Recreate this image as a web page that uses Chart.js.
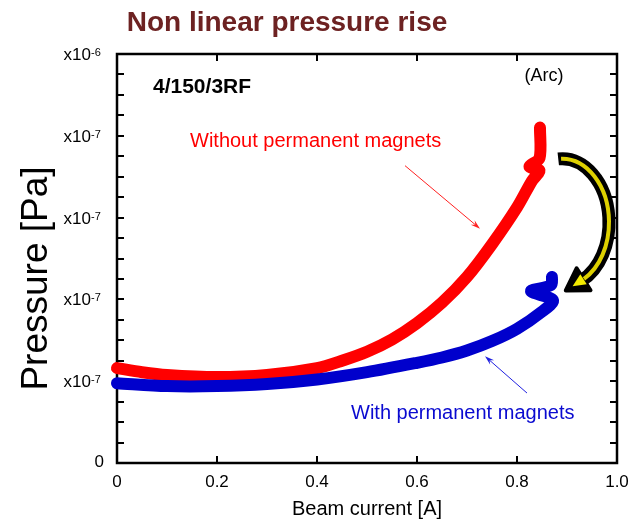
<!DOCTYPE html>
<html>
<head>
<meta charset="utf-8">
<title>Non linear pressure rise</title>
<script src="https://cdn.jsdelivr.net/npm/chart.js@4.4.1/dist/chart.umd.min.js"></script>
<style>
  html, body { margin: 0; padding: 0; background: #fff; }
  #wrap { width: 631px; height: 523px; }
</style>
</head>
<body>
<div id="wrap"><canvas id="chart"></canvas></div>
<script>
// Beam current [A] and pressure (in units of 1e-7 Pa)
var redCurrent  = [0, 0.05, 0.1, 0.2, 0.3, 0.4, 0.45, 0.5, 0.55, 0.6, 0.65, 0.7, 0.75, 0.8, 0.83, 0.845, 0.825, 0.845, 0.846]
var redPressure = [2.32, 2.22, 2.15, 2.10, 2.15, 2.32, 2.50, 2.72, 3.02, 3.42, 3.92, 4.55, 5.35, 6.25, 6.90, 7.15, 7.25, 7.45, 8.2]

var blueCurrent  = [0, 0.1, 0.2, 0.3, 0.4, 0.5, 0.6, 0.65, 0.7, 0.75, 0.8, 0.85, 0.872, 0.828, 0.868, 0.87]
var bluePressure = [1.95, 1.88, 1.88, 1.93, 2.04, 2.22, 2.45, 2.58, 2.75, 2.98, 3.28, 3.70, 3.98, 4.20, 4.35, 4.55]

var xTickLabels = ['0', '0.2', '0.4', '0.6', '0.8', '1.0']
var yMajorTicks = [0, 2, 4, 6, 8, 10]
var yTickBase   = ['0', 'x10', 'x10', 'x10', 'x10', 'x10']
var yTickExp    = ['', '-7', '-7', '-7', '-7', '-6']

var FONT = "'Liberation Sans', Arial, sans-serif"

function toPoints(xs, ys) {
    return xs.map((x, i) => ({ x: x, y: ys[i] }))
}

// small arrow with a notched head
function thinArrow(ctx, x1, y1, x2, y2, color) {
    var ang = Math.atan2(y2 - y1, x2 - x1)
    ctx.strokeStyle = color
    ctx.fillStyle = color
    ctx.lineWidth = 1
    ctx.beginPath()
    ctx.moveTo(x1, y1)
    ctx.lineTo(x2 - 4 * Math.cos(ang), y2 - 4 * Math.sin(ang))
    ctx.stroke()
    var len = 10, spread = 0.3
    ctx.beginPath()
    ctx.moveTo(x2, y2)
    ctx.lineTo(x2 - len * Math.cos(ang - spread), y2 - len * Math.sin(ang - spread))
    ctx.lineTo(x2 - 6 * Math.cos(ang), y2 - 6 * Math.sin(ang))
    ctx.lineTo(x2 - len * Math.cos(ang + spread), y2 - len * Math.sin(ang + spread))
    ctx.closePath()
    ctx.fill()
}

// black outlined yellow bent arrow ("Arc" jump)
function bentArrow(ctx, cx, cy, rx, ry) {
    var a0 = -Math.PI / 2 - 0.08
    var a1 = 65 * Math.PI / 180
    var ex = cx + rx * Math.cos(a1), ey = cy + ry * Math.sin(a1)
    var tx = -rx * Math.sin(a1), ty = ry * Math.cos(a1)
    var tl = Math.hypot(tx, ty)
    tx /= tl; ty /= tl
    var nx = -ty, ny = tx

    function head(size, back) {
        ctx.beginPath()
        ctx.moveTo(ex + tx * size, ey + ty * size)
        ctx.lineTo(ex + nx * back - tx * 2, ey + ny * back - ty * 2)
        ctx.lineTo(ex - nx * back - tx * 2, ey - ny * back - ty * 2)
        ctx.closePath()
    }

    ctx.lineCap = 'butt'
    ctx.lineJoin = 'round'
    ctx.strokeStyle = '#000'
    ctx.lineWidth = 13
    ctx.beginPath()
    ctx.ellipse(cx, cy, rx, ry, 0, a0, a1)
    ctx.stroke()
    ctx.fillStyle = '#000'
    ctx.lineWidth = 4
    head(19, 13)
    ctx.fill()
    ctx.stroke()

    ctx.strokeStyle = '#ddd000'
    ctx.lineWidth = 4
    ctx.beginPath()
    ctx.ellipse(cx, cy, rx, ry, 0, a0 + 0.06, a1 - 0.05)
    ctx.stroke()
    ctx.fillStyle = '#f2ea00'
    head(11, 6)
    ctx.fill()
}

var framePlugin = {
    id: 'frame',
    beforeDatasetsDraw(chart) {
        var ctx = chart.ctx, a = chart.chartArea
        var xs = chart.scales.x, ys = chart.scales.y
        ctx.save()

        // main title
        ctx.font = 'bold 28px ' + FONT
        ctx.fillStyle = '#6d2222'
        ctx.textAlign = 'center'
        ctx.textBaseline = 'alphabetic'
        ctx.fillText('Non linear pressure rise', 287, 31)

        ctx.strokeStyle = '#000'
        ctx.lineWidth = 2
        ctx.beginPath()
        xs.ticks.forEach(t => {
            var px = Math.round(xs.getPixelForValue(t.value))
            ctx.moveTo(px, a.bottom); ctx.lineTo(px, a.bottom - 7)
            ctx.moveTo(px, a.top); ctx.lineTo(px, a.top + 7)
        })
        ys.ticks.forEach(t => {
            var py = Math.round(ys.getPixelForValue(t.value))
            ctx.moveTo(a.left, py); ctx.lineTo(a.left + 7, py)
            ctx.moveTo(a.right, py); ctx.lineTo(a.right - 7, py)
        })
        ctx.stroke()
        ctx.lineWidth = 2.5
        ctx.strokeRect(a.left, a.top, a.right - a.left, a.bottom - a.top)

        // y tick labels with exponent
        ctx.fillStyle = '#000'
        yMajorTicks.forEach((v, i) => {
            var py = ys.getPixelForValue(v)
            if (!yTickExp[i]) {
                ctx.font = '17px ' + FONT
                ctx.textAlign = 'right'
                ctx.textBaseline = 'middle'
                ctx.fillText(yTickBase[i], a.left - 13, py - 1)
                return
            }
            var x0 = a.left - 26
            ctx.font = '17px ' + FONT
            ctx.textAlign = 'right'
            ctx.textBaseline = 'alphabetic'
            ctx.fillText(yTickBase[i], x0, py + 6)
            ctx.font = '11px ' + FONT
            ctx.textAlign = 'left'
            ctx.fillText(yTickExp[i], x0, py + 2)
        })

        // y axis title
        ctx.save()
        ctx.translate(37, (a.top + a.bottom) / 2 + 20)
        ctx.rotate(-Math.PI / 2)
        ctx.font = '37px ' + FONT
        ctx.textAlign = 'center'
        ctx.textBaseline = 'middle'
        ctx.fillText('Pressure [Pa]', 0, 0)
        ctx.restore()
        ctx.restore()
    }
}

var notesPlugin = {
    id: 'notes',
    afterDatasetsDraw(chart) {
        var ctx = chart.ctx
        var xs = chart.scales.x, ys = chart.scales.y
        var P = (x, y) => [xs.getPixelForValue(x), ys.getPixelForValue(y)]
        ctx.save()
        ctx.textBaseline = 'middle'

        var p = P(0.072, 9.2)
        ctx.font = 'bold 21px ' + FONT
        ctx.fillStyle = '#000'
        ctx.textAlign = 'left'
        ctx.fillText('4/150/3RF', p[0], p[1])

        p = P(0.854, 9.46)
        ctx.font = '18px ' + FONT
        ctx.textAlign = 'center'
        ctx.fillText('(Arc)', p[0], p[1])

        p = P(0.146, 7.85)
        ctx.font = '20px ' + FONT
        ctx.fillStyle = '#ff0000'
        ctx.textAlign = 'left'
        ctx.fillText('Without permanent magnets', p[0], p[1])

        p = P(0.468, 1.2)
        ctx.fillStyle = '#0a0ad0'
        ctx.fillText('With permanent magnets', p[0], p[1])

        var s = P(0.576, 7.27), e = P(0.726, 5.73)
        thinArrow(ctx, s[0], s[1], e[0], e[1], '#ff2020')
        s = P(0.82, 1.71); e = P(0.736, 2.61)
        thinArrow(ctx, s[0], s[1], e[0], e[1], '#2020e0')

        var c = P(0.89, 5.88)
        var rx = xs.getPixelForValue(0.094) - xs.getPixelForValue(0)
        var ry = ys.getPixelForValue(0) - ys.getPixelForValue(1.56)
        bentArrow(ctx, c[0], c[1], rx, ry)
        ctx.restore()
    }
}

var lineStyle = {
    showLine: true,
    borderWidth: 12,
    pointRadius: 0,
    pointHoverRadius: 0,
    tension: 0.3,
    borderCapStyle: 'round',
    borderJoinStyle: 'round',
    clip: false
}

new Chart(document.getElementById('chart'), {
    type: 'scatter',
    data: {
        datasets: [
            Object.assign({
                label: 'With permanent magnets',
                data: toPoints(blueCurrent, bluePressure),
                borderColor: '#0000cc',
                backgroundColor: '#0000cc'
            }, lineStyle),
            Object.assign({
                label: 'Without permanent magnets',
                data: toPoints(redCurrent, redPressure),
                borderColor: '#ff0000',
                backgroundColor: '#ff0000'
            }, lineStyle)
        ]
    },
    options: {
        responsive: true,
        maintainAspectRatio: false,
        animation: false,
        events: [],
        layout: { padding: { left: 0, right: 14, top: 54, bottom: 0 } },
        plugins: {
            legend: { display: false },
            tooltip: { enabled: false },
            title: { display: false }
        },
        scales: {
            x: {
                type: 'linear',
                min: 0,
                max: 1,
                grid: { display: false, drawTicks: false },
                border: { display: false },
                ticks: {
                    stepSize: 0.2,
                    padding: 9,
                    color: '#000',
                    font: { family: FONT, size: 17 },
                    callback: (v, i) => xTickLabels[i]
                },
                title: {
                    display: true,
                    text: 'Beam current [A]',
                    color: '#000',
                    font: { family: FONT, size: 20 },
                    padding: { top: 0, bottom: 2 }
                },
                afterFit: s => {
                    s.height = 60
                    s.paddingLeft = 0
                    s.paddingRight = 0
                }
            },
            y: {
                type: 'linear',
                min: 0,
                max: 10,
                grid: { display: false, drawTicks: false },
                border: { display: false },
                ticks: { stepSize: 0.5, maxTicksLimit: 21, display: false },
                afterFit: s => { s.width = 117 }
            }
        }
    },
    plugins: [framePlugin, notesPlugin]
})
</script>
</body>
</html>
